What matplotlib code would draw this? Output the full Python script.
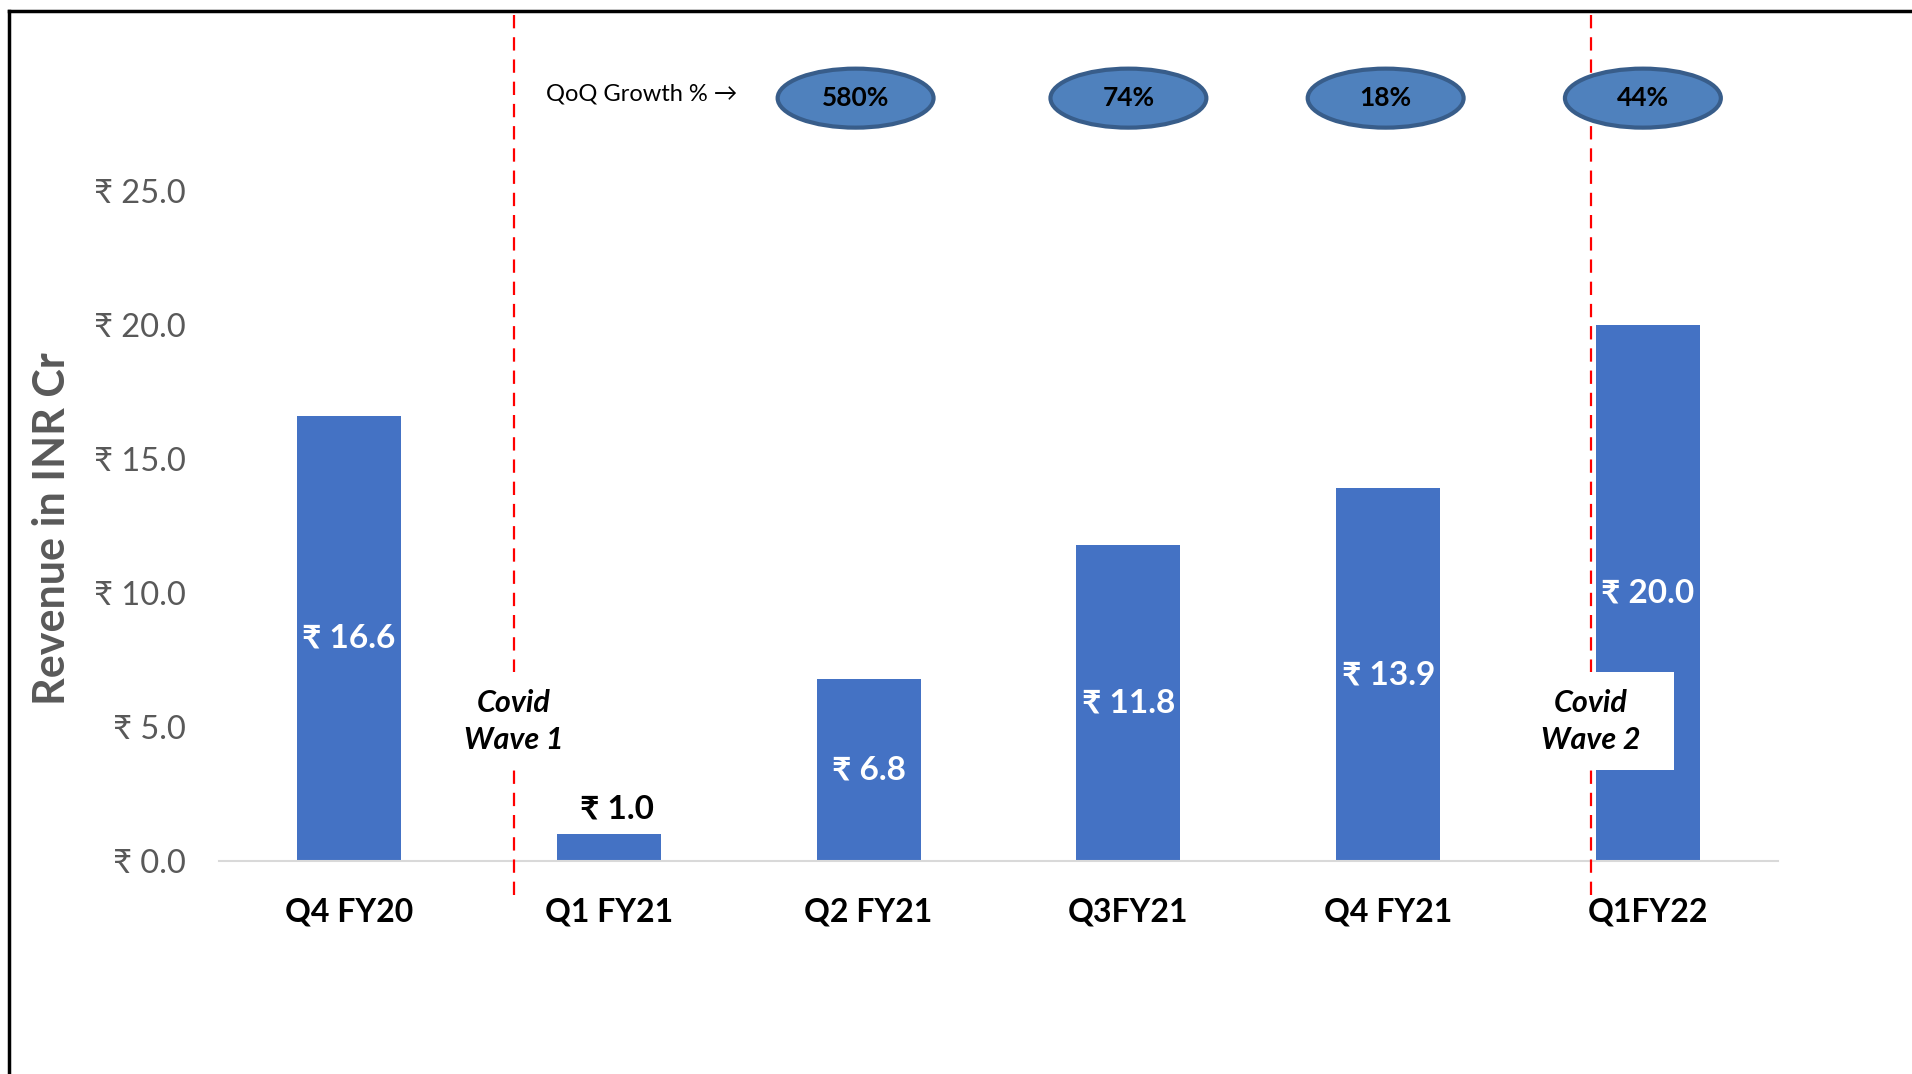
import matplotlib.pyplot as plt
from matplotlib.patches import Ellipse, Rectangle
from matplotlib.lines import Line2D

# data
quarters = ['Q4 FY20', 'Q1 FY21', 'Q2 FY21', 'Q3FY21', 'Q4 FY21', 'Q1FY22']
revenue = [16.6, 1.0, 6.8, 11.8, 13.9, 20.0]
growth = ['580%', '74%', '18%', '44%']
growth_at = [1.95, 3.0, 3.99, 4.98]
wave_x = [0.634, 4.78]
wave_names = ['Covid\nWave 1', 'Covid\nWave 2']

plt.rcParams['font.family'] = ['Lato', 'DejaVu Sans']

fig = plt.figure(figsize=(19.12, 10.74), dpi=100)
ax = fig.add_axes([219/1912, 213/1074, 1559/1912, 0.749])

x = list(range(len(quarters)))
ax.bar(x, revenue, width=0.4, color='#4472C4', zorder=2)
ax.set_xlim(-0.5, 5.5)
ax.set_ylim(0, 30)

# value labels: white inside the bars, black above the small one
for i, v in enumerate(revenue):
    txt = '₹ {:.1f}'.format(v)
    if v < 3:
        ax.text(i + 0.03, v + 0.4, txt, ha='center', va='bottom', fontsize=24,
                fontweight='bold', color='black', zorder=4)
    else:
        ax.text(i, v / 2, txt, ha='center', va='center', fontsize=24,
                fontweight='bold', color='white', zorder=4)

ax.set_yticks([0, 5, 10, 15, 20, 25])
ax.set_yticklabels(['₹ {:.1f}'.format(t) for t in [0, 5, 10, 15, 20, 25]],
                   fontsize=23.5, color='#595959')
ax.set_xticks(x)
ax.set_xticklabels(quarters, fontsize=23, fontweight='bold', color='black')
ax.tick_params(axis='y', length=0, pad=24)
ax.tick_params(axis='x', length=0, pad=26)

for s in ['top', 'right', 'left']:
    ax.spines[s].set_visible(False)
ax.spines['bottom'].set_color('#D9D9D9')
ax.spines['bottom'].set_linewidth(1.5)

ax.set_ylabel('Revenue in INR Cr', fontsize=31, fontweight='bold', color='#595959')
ax.yaxis.set_label_coords(-0.094, 12.4 / 30)

# covid wave markers
for wx, name in zip(wave_x, wave_names):
    ax.plot([wx, wx], [-1.25, 31.7], color='#FF0000', linestyle=(0, (6, 4)),
            linewidth=1.6, clip_on=False, zorder=3)
    ax.add_patch(Rectangle((wx - 0.26, 3.41), 0.58, 3.64, facecolor='white',
                           edgecolor='none', zorder=4))
    ax.text(wx + 0.0, 5.2, name, ha='center', va='center', fontsize=22,
            fontweight='bold', fontstyle='italic', color='black', linespacing=1.42,
            zorder=5)

# QoQ growth bubbles
ax.text(0.76, 28.6, 'QoQ Growth % →', ha='left', va='center', fontsize=17, color='black')
for gx, g in zip(growth_at, growth):
    e = Ellipse((gx, 28.45), 0.6, 2.2, facecolor='#4F81BD', edgecolor='#385D8A',
                linewidth=3, clip_on=False, zorder=4)
    ax.add_patch(e)
    ax.text(gx, 28.45, g, ha='center', va='center', fontsize=19, fontweight='bold',
            color='black', zorder=5)

# slide frame lines
fig.add_artist(Line2D([9/1912, 1], [1 - 11/1074, 1 - 11/1074], color='black', linewidth=2.5))
fig.add_artist(Line2D([9/1912, 9/1912], [0, 1 - 11/1074], color='black', linewidth=2.5))

fig.savefig('out.png', dpi=100)
